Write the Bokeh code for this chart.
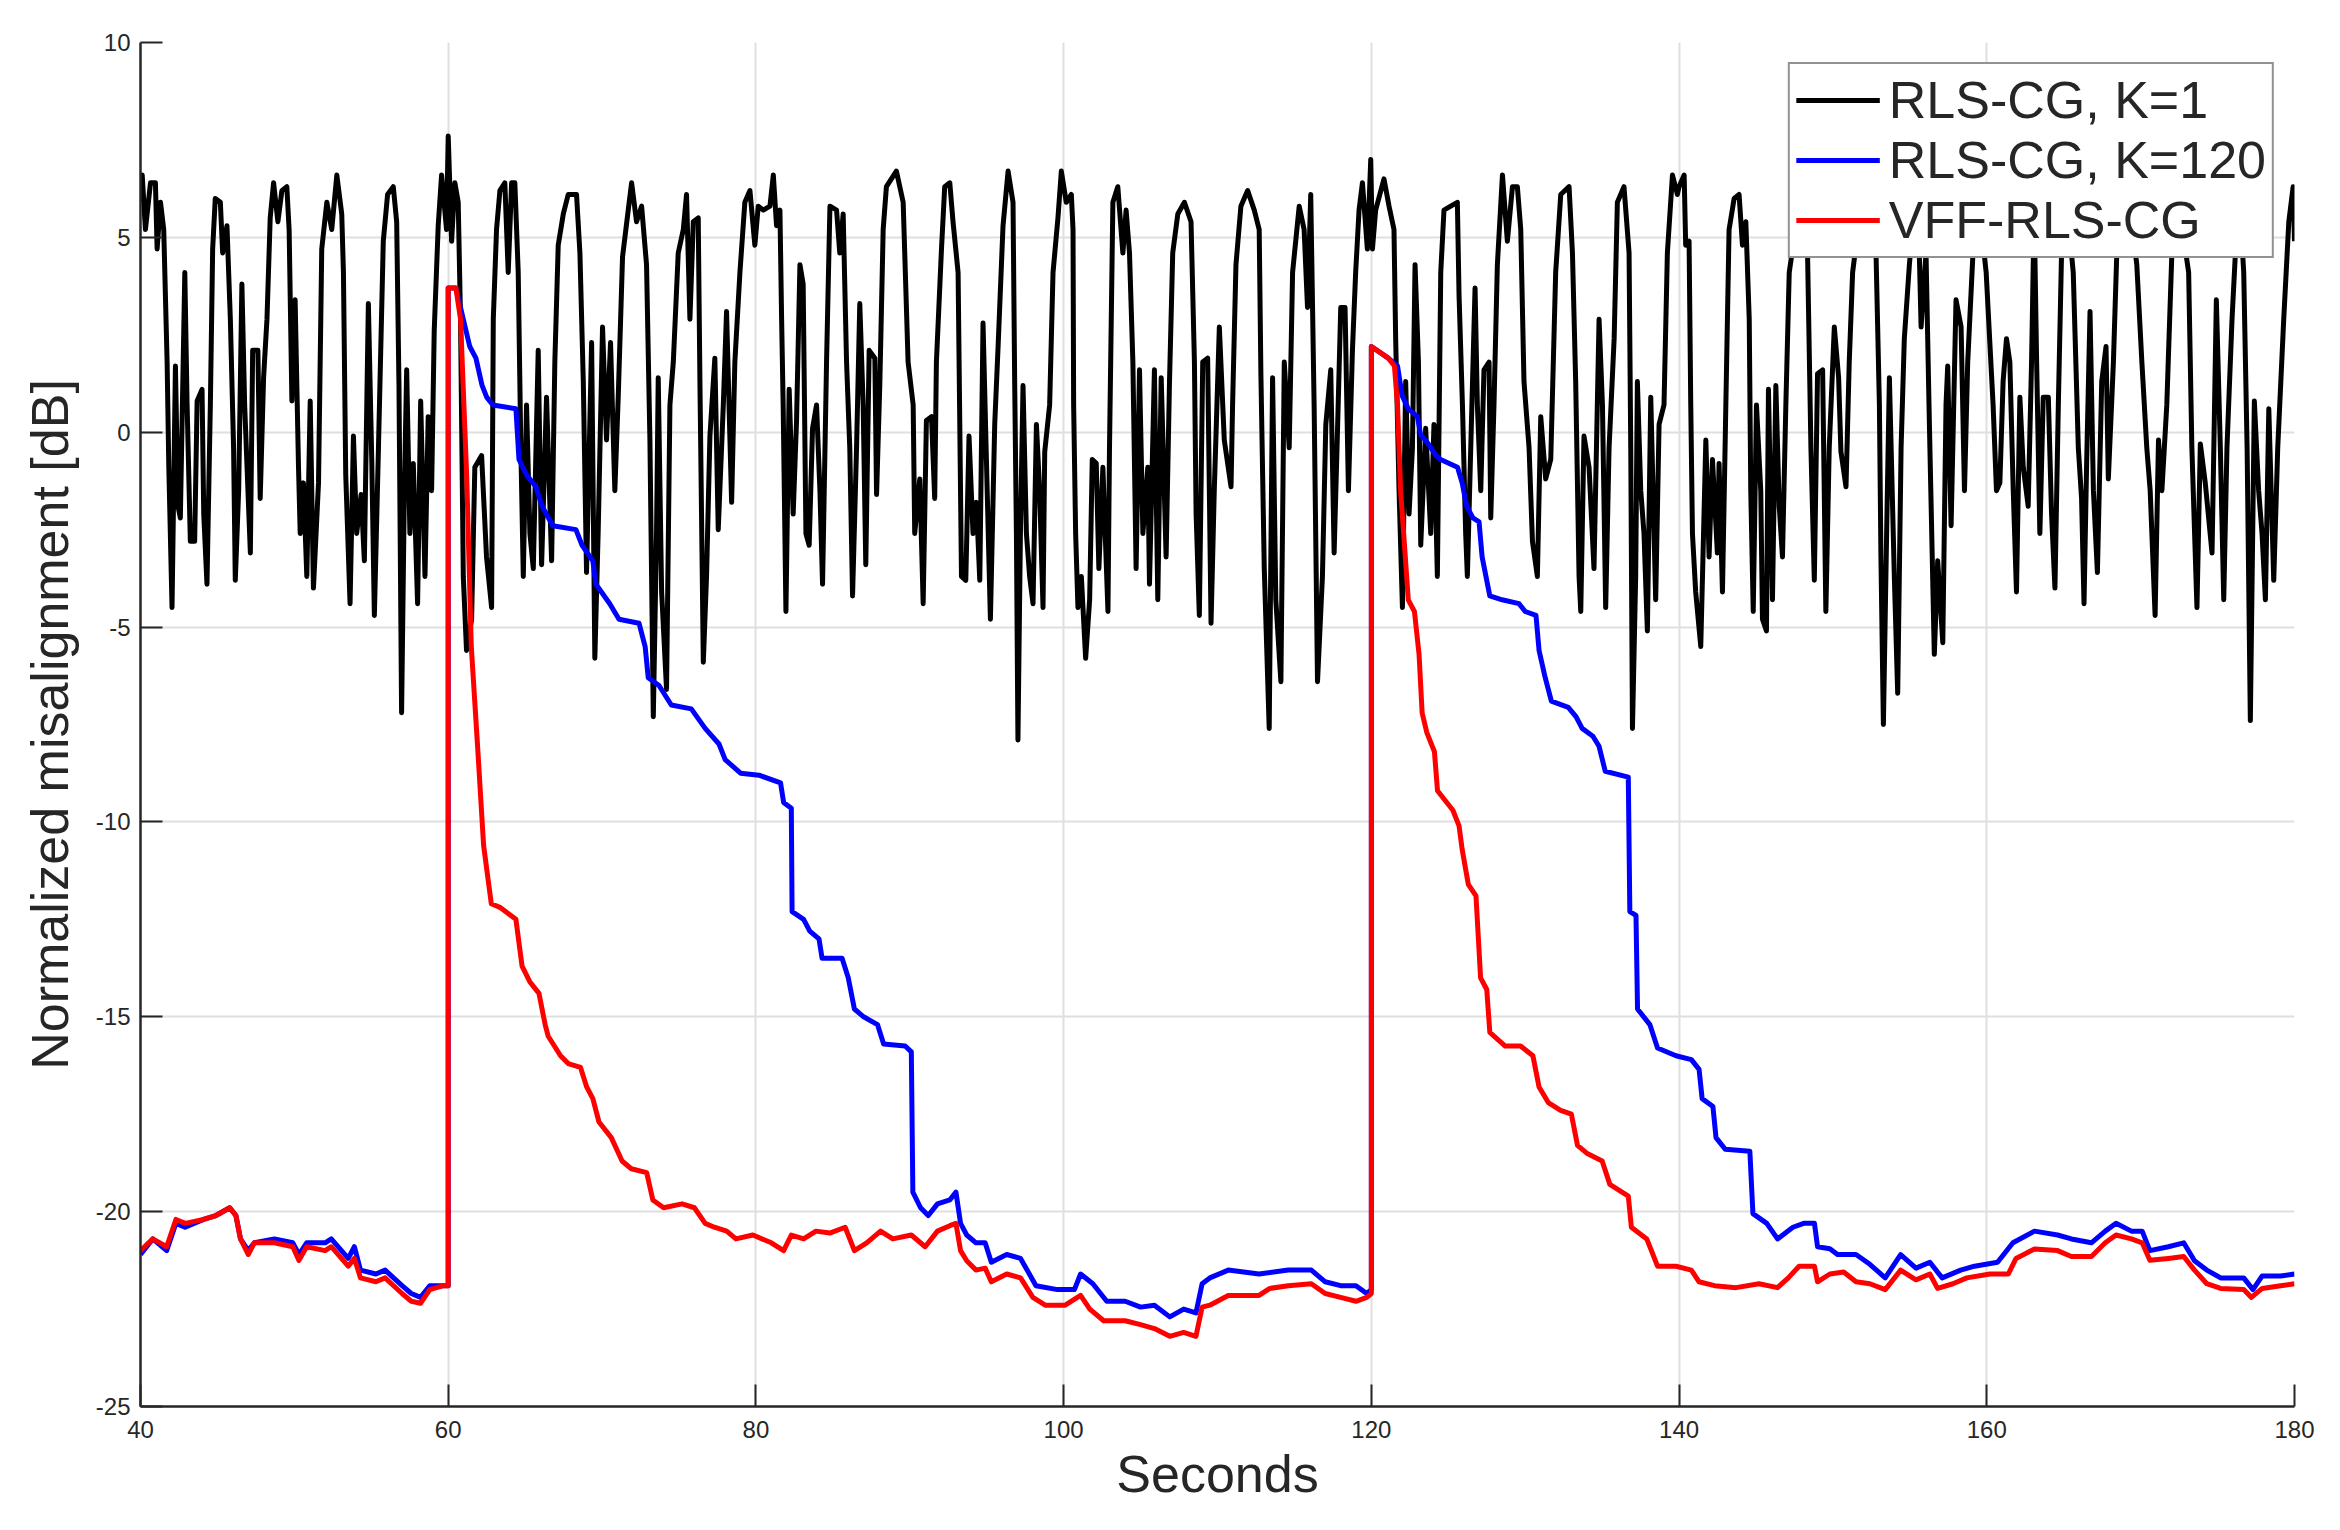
from bokeh.plotting import figure
from bokeh.models import Range1d, FixedTicker
from bokeh.embed import file_html
from bokeh.resources import INLINE

# ---- data ----
x_ticks = [40, 60, 80, 100, 120, 140, 160, 180]
y_ticks = [-25, -20, -15, -10, -5, 0, 5, 10]

k1_t = [40.00, 40.11, 40.32, 40.65, 40.97, 41.08, 41.30, 41.51, 41.62, 41.73, 41.84, 42.05, 42.27, 42.44, 42.59, 42.88,
        43.03, 43.24, 43.52, 43.68, 44.00, 44.11, 44.32, 44.54, 44.69, 44.86, 45.19, 45.34, 45.62, 45.84, 46.05, 46.16,
        46.38, 46.59, 46.77, 47.14, 47.29, 47.63, 47.78, 48.00, 48.22, 48.43, 48.65, 48.93, 49.19, 49.51, 49.66, 49.84,
        50.05, 50.27, 50.38, 50.59, 50.81, 51.03, 51.24, 51.57, 51.78, 52.11, 52.43, 52.76, 53.08, 53.19, 53.34, 53.62,
        53.84, 54.05, 54.34, 54.55, 54.81, 55.03, 55.20, 55.46, 55.78, 56.06, 56.43, 56.65, 56.80, 56.97, 57.15, 57.30,
        57.51, 57.73, 58.01, 58.21, 58.49, 58.70, 58.92, 59.09, 59.35, 59.57, 59.89, 60.00,
        60.22, 60.43, 60.65, 60.80, 60.98, 61.19, 61.52, 61.73, 62.17, 62.49, 62.82, 62.93, 63.14, 63.36, 63.68, 63.90,
        64.12, 64.33, 64.55, 64.72, 64.88, 65.09, 65.31, 65.53, 65.85, 66.07, 66.39, 66.72, 66.93, 67.15, 67.48, 67.80,
        68.34, 68.56, 68.78, 68.99, 69.32, 69.53, 69.75, 70.03, 70.29, 70.55, 70.83, 71.05, 71.33, 71.70, 71.92, 72.24,
        72.57, 72.89, 73.11, 73.33, 73.54, 73.65, 73.87, 74.19, 74.41, 74.63, 74.95, 75.28, 75.49, 75.71, 75.93, 76.25,
        76.36, 76.58, 76.79, 77.01, 77.33, 77.55, 77.88, 78.09, 78.42, 78.63, 78.96, 79.28, 79.61, 79.93,
        80.15, 80.48, 80.91, 81.13, 81.34, 81.56, 81.67, 81.77, 81.95, 82.16, 82.42, 82.64, 82.86, 83.07, 83.25, 83.46,
        83.68, 83.94, 84.16, 84.33, 84.59, 84.81, 85.24, 85.45, 85.67, 85.89, 86.10, 86.28, 86.54, 86.75, 86.97, 87.14,
        87.36, 87.73, 87.84, 88.05, 88.27, 88.48, 89.13, 89.57, 89.89, 90.22, 90.32, 90.65, 90.87, 91.08, 91.41, 91.62,
        91.73, 92.06, 92.27, 92.60, 92.81, 93.14, 93.36, 93.64, 93.85, 94.11, 94.33, 94.55, 94.76, 94.98, 95.24, 95.52,
        95.74, 96.06, 96.39, 96.71, 96.82, 96.93, 97.03, 97.19, 97.36, 97.58, 97.79, 98.01, 98.23, 98.44, 98.66, 98.77,
        99.09, 99.31, 99.63, 99.85,
        100.17, 100.50, 100.61, 100.65, 100.78, 100.93, 101.15, 101.43, 101.69, 101.86, 102.12, 102.29, 102.55, 102.88,
        102.98, 103.20, 103.52, 103.85, 104.06, 104.28, 104.50, 104.71, 104.93, 105.15, 105.47, 105.58, 105.90, 106.12,
        106.34, 106.66, 106.88, 107.09, 107.42, 107.85, 108.28, 108.50, 108.61, 108.82, 109.04, 109.36, 109.58, 109.79,
        110.12, 110.44, 110.88, 110.98, 111.20, 111.52, 111.96, 112.39, 112.71, 112.82, 113.04, 113.36, 113.58, 113.79,
        114.12, 114.34, 114.66, 114.88, 115.31, 115.63, 115.85, 116.06, 116.28, 116.50, 116.82, 117.04, 117.36, 117.58,
        117.79, 118.01, 118.29, 118.51, 118.77, 118.98, 119.20, 119.42, 119.74, 119.96,
        120.07, 120.28, 120.82, 121.15, 121.47, 121.58, 121.80, 122.02, 122.23, 122.45, 122.67, 122.84, 123.06, 123.21,
        123.53, 123.86, 124.07, 124.29, 124.51, 124.72, 125.16, 125.59, 125.70, 125.92, 126.13, 126.24, 126.46, 126.74,
        126.89, 127.11, 127.32, 127.65, 127.76, 127.97, 128.19, 128.52, 128.84, 129.17, 129.49, 129.71, 129.92, 130.25,
        130.47, 130.79, 131.01, 131.33, 131.66, 131.98, 132.31, 132.85, 133.07, 133.28, 133.50, 133.61, 133.82, 134.15,
        134.47, 134.80, 135.02, 135.23, 135.45, 135.78, 135.99, 136.42, 136.75, 136.86, 136.97, 137.18, 137.29, 137.51,
        137.72, 137.94, 138.16, 138.48, 138.70, 139.02, 139.24, 139.57, 139.89,
        140.00, 140.33, 140.43, 140.65, 140.76, 140.87, 141.08, 141.41, 141.74, 141.95, 142.17, 142.49, 142.60, 142.82,
        143.04, 143.25, 143.58, 143.90, 144.12, 144.34, 144.56, 144.66, 144.82, 145.03, 145.31, 145.42, 145.68, 145.81,
        146.07, 146.29, 146.51, 146.72, 146.94, 147.16, 147.38, 147.70, 148.03, 148.35, 148.57, 148.79, 149.00, 149.33,
        149.54, 149.76, 150.09, 150.37, 150.52, 150.85, 151.06, 151.28, 151.50, 151.93, 152.47, 152.80, 153.02, 153.12,
        153.28, 153.49, 153.67, 153.99, 154.21, 154.43, 154.64, 154.97, 155.29, 155.62, 155.73, 156.05, 156.27, 156.59,
        156.81, 157.14, 157.35, 157.46, 157.68, 158.00, 158.33, 158.55, 158.76, 159.09, 159.52, 159.96,
        160.41, 160.63, 160.85, 161.06, 161.28, 161.50, 161.72, 161.93, 162.15, 162.37, 162.69, 162.91, 163.08, 163.24,
        163.45, 163.67, 164.00, 164.21, 164.43, 164.65, 164.86, 165.19, 165.62, 165.95, 166.16, 166.32, 166.49, 166.71,
        166.93, 167.19, 167.47, 167.75, 167.90, 168.23, 168.45, 168.88, 169.32, 169.75, 170.08, 170.40, 170.62, 170.94,
        171.16, 171.38, 171.70, 172.03, 172.46, 173.12, 173.33, 173.66, 173.88, 174.20, 174.64, 174.92, 175.18, 175.40,
        175.61, 175.94, 176.16, 176.48, 176.70, 176.92, 177.13, 177.39, 177.67, 177.89, 178.11, 178.33, 178.65, 178.91,
        179.30, 179.63, 179.91, 180.00]

k1_db = [5.9, 6.6, 5.2, 6.4, 6.4, 4.7, 5.9, 5.2, 3.5, 1.8, -0.9, -4.5, 1.7, -1.9, -2.2, 4.1,
         0.7, -2.8, -2.8, 0.8, 1.1, -2.1, -3.9, 0.7, 4.7, 6.0, 5.9, 4.6, 5.3, 2.9, -0.4, -3.8,
         -1.5, 3.8, 0.7, -3.1, 2.1, 2.1, -1.7, 1.4, 2.9, 5.5, 6.4, 5.4, 6.2, 6.3, 5.2, 0.8,
         3.4, -0.9, -2.6, -1.3, -3.7, 0.8, -4.0, -1.3, 4.7, 5.9, 5.2, 6.6, 5.6, 4.1, -1.1, -4.4,
         -0.1, -2.6, -1.6, -3.3, 3.3, -0.7, -4.7, -0.5, 4.9, 6.1, 6.3, 5.4, 1.2, -7.2, -1.5, 1.6,
         -2.6, -0.8, -4.4, 0.8, -3.7, 0.4, -1.5, 2.6, 5.3, 6.6, 5.2, 7.6,
         4.9, 6.4, 5.9, 2.9, -3.7, -5.6, -4.8, -0.9, -0.6, -3.2, -4.5, 2.9, 5.2, 6.2, 6.4, 4.1,
         6.4, 6.4, 4.1, -0.4, -3.7, 0.7, -2.6, -3.5, 2.1, -3.4, 0.9, -3.3, 1.8, 4.8, 5.6, 6.1,
         6.1, 4.6, 1.3, -3.6, 2.3, -5.8, -2.5, 2.7, -0.2, 2.3, -1.5, 0.9, 4.5, 5.7, 6.4, 5.4,
         5.8, 4.3, -0.2, -7.3, -2.6, 1.4, -4.1, -6.6, 0.7, 1.8, 4.6, 5.2, 6.1, 2.9, 5.4, 5.5,
         1.3, -5.9, -3.7, -0.1, 1.9, -2.5, 0.7, 3.1, -1.8, 1.8, 4.1, 5.9, 6.2, 4.8,
         5.8, 5.7, 5.8, 6.6, 5.3, 5.7, 2.9, 0.7, -4.6, 1.1, -2.1, 0.3, 4.3, 3.8, -2.6, -2.9,
         0.1, 0.7, -1.5, -3.9, 1.8, 5.8, 5.7, 4.6, 5.6, 1.8, -0.4, -4.2, -0.4, 3.3, 0.7, -3.4,
         2.1, 1.9, -1.6, 1.2, 5.2, 6.3, 6.7, 5.9, 1.8, 0.7, -2.6, -1.2, -4.4, 0.3, 0.4, -1.7,
         1.8, 4.7, 6.3, 6.4, 5.4, 4.1, -3.7, -3.8, -0.1, -2.6, -1.8, -3.8, 2.8, -0.7, -4.8, 0.2,
         2.2, 5.3, 6.7, 5.9, 1.2, -2.6, -7.9, -2.6, 1.2, -2.6, -3.7, -4.4, 0.2, -1.5, -4.5, -0.5,
         0.7, 4.1, 5.5, 6.7,
         5.9, 6.1, 5.2, 0.7, -2.6, -4.5, -3.7, -5.8, -4.3, -0.7, -0.8, -3.5, -0.9, -4.6,
         -0.4, 5.9, 6.3, 4.6, 5.7, 4.6, 1.8, -3.5, 1.6, -2.6, -0.9, -3.9, 1.6, -4.3,
         1.4, -3.2, 1.3, 4.6, 5.6, 5.9, 5.4, 1.8, -2.1, -4.7, 1.8, 1.9, -4.9, -1.5,
         2.7, -0.2, -1.4, 0.7, 4.3, 5.8, 6.2, 5.7, 5.2, 1.5, -3.5, -7.6, 1.4, -4.3,
         -6.4, 1.8, -0.4, 4.1, 5.8, 5.2, 3.2, 6.1, 0.7, -6.4, -3.7, 0.2, 1.6, -3.1,
         -0.1, 3.2, 3.2, -1.5, 2.1, 4.1, 5.7, 6.4, 4.7, 7.0,
         4.7, 5.7, 6.5, 5.8, 5.2, 2.4, -1.5, -4.5, 1.3, -2.1, -0.4, 4.3, 1.8, -2.9,
         0.1, -2.6, 0.2, -3.7, 4.1, 5.7, 5.8, 5.9, 3.5, 0.7, -2.6, -3.7, -0.4, 3.7,
         0.7, -1.5, 1.6, 1.8, -2.2, 0.7, 4.3, 6.6, 4.9, 6.3, 6.3, 5.2, 1.3, -0.4,
         -2.8, -3.7, 0.4, -1.2, -0.7, 4.1, 6.1, 6.3, 4.6, 1.3, -3.7, -4.6, -0.1, -0.9,
         -3.5, 2.9, 0.7, -4.5, -0.4, 2.4, 5.9, 6.3, 4.6, -0.4, -7.6, -3.7, 1.3, -1.5,
         -2.6, -5.1, 0.9, -4.3, 0.2, 0.7, 4.6, 6.6, 6.1,
         6.3, 6.6, 4.8, 4.9, 0.7, -2.6, -4.1, -5.5, -0.2, -3.2, -0.7, -3.1, -0.8, -4.1,
         0.7, 5.2, 6.0, 6.1, 4.8, 5.4, 2.9, -1.5, -4.6, 0.7, -1.5, -4.8, -5.1, 1.1,
         -4.3, 1.2, -1.9, -3.2, 0.7, 4.1, 4.7, 5.7, 5.7, 4.6, -0.4, -3.8, 1.5, 1.6,
         -4.6, -0.4, 2.7, 1.4, -0.5, -1.4, 1.8, 4.1, 4.8, 5.9, 5.7, 4.6, 0.7, -3.2,
         -7.5, -2.6, 1.4, -3.7, -6.7, -0.4, 2.4, 4.3, 5.8, 4.5, 2.7, 4.6, 0.2, -5.7,
         -3.3, -5.4, 0.7, 1.7, -2.4, 3.4, 2.7, -1.5, 1.8, 4.5, 5.7, 4.1,
         0.7, -1.5, -1.3, 1.3, 2.4, 1.8, -1.5, -4.1, 0.9, -0.9, -1.9, 1.8, 5.7, 1.8,
         -2.6, 0.9, 0.9, -2.1, -4.0, 0.7, 4.6, 5.9, 4.1, -0.4, -1.7, -4.4, -0.8, 3.1,
         -1.5, -3.6, 1.3, 2.2, -1.2, 1.8, 4.6, 5.8, 5.7, 4.3, 1.8, -0.4, -1.5, -4.7,
         -0.2, -1.5, 0.7, 4.6, 5.9, 4.1, -0.4, -4.5, -0.3, -1.3, -3.1, 3.4, -0.4, -4.3,
         -0.4, 2.9, 4.6, 5.6, 4.1, -0.4, -7.4, 0.8, -1.5, -2.6, -4.3, 0.6, -3.8, -0.4,
         2.9, 5.4, 6.3, 4.9]

k120_t = [40.0, 40.8, 41.7, 42.3, 42.9, 44.1, 44.9, 45.8, 46.2, 46.5, 47.0, 47.4, 48.7, 49.9, 50.3, 50.8,
          52.0, 52.4, 53.5, 53.9, 54.3, 55.3, 55.9, 57.0, 57.6, 58.2, 58.8, 59.7, 60.0, 60.0, 60.5, 60.8,
          61.1, 61.4, 61.8, 62.2, 62.5, 62.9, 64.4, 64.6, 65.1, 65.7, 66.1, 66.8, 68.3, 68.7, 69.4, 69.6,
          70.5, 71.1, 72.4, 72.8, 73.0, 73.7, 74.5, 75.8, 76.7, 77.6, 78.0, 79.0, 80.2, 81.6, 81.8, 82.3,
          82.35, 83.1, 83.5, 84.1, 84.3, 85.6, 86.0, 86.4, 87.0, 87.9, 88.3, 89.7, 90.1, 90.2, 90.7, 91.2,
          91.8, 92.6, 93.0, 93.3, 93.7, 94.3, 94.9, 95.3, 96.3, 97.2, 98.2, 99.6, 100.7, 101.1, 101.9, 102.8,
          104.0, 105.0, 105.9, 106.9, 107.8, 108.6, 109.0, 109.5, 110.7, 112.7, 114.6, 116.1, 117.0, 118.0,
          119.0, 119.7, 120.0, 120.0, 121.1, 121.7, 122.0, 122.4, 123.0, 123.2, 123.7, 124.2, 124.5, 125.6,
          125.9, 126.2, 126.6, 127.0, 127.2, 127.7, 128.5, 129.6, 130.0, 130.7, 130.9, 131.3, 131.7, 132.8,
          133.3, 133.7, 134.4, 134.8, 135.2, 136.7, 136.8, 137.2, 137.3, 138.1, 138.6, 139.8, 140.8, 141.3,
          141.5, 142.2, 142.4, 143.0, 144.6, 144.8, 145.7, 146.4, 147.4, 148.1, 148.8, 149.0, 149.8, 150.3,
          151.5, 152.4, 153.4, 154.4, 155.4, 156.3, 157.1, 158.3, 159.2, 160.7, 161.7, 163.1, 164.6, 165.5,
          166.8, 167.7, 168.4, 169.4, 170.1, 170.6, 171.8, 172.8, 173.5, 174.3, 175.2, 176.7, 177.3, 177.9,
          179.1, 180.0]
k120_db = [-21.1, -20.7, -21.0, -20.3, -20.4, -20.2, -20.1, -19.9, -20.1, -20.7, -21.0, -20.8, -20.7, -20.8, -21.1, -20.8,
           -20.8, -20.7, -21.2, -20.9, -21.5, -21.6, -21.5, -21.9, -22.1, -22.2, -21.9, -21.9, -21.9, 3.7, 3.7, 3.2,
           2.7, 2.2, 1.9, 1.2, 0.9, 0.7, 0.6, -0.7, -1.1, -1.4, -1.9, -2.4, -2.5, -2.9, -3.3, -3.9,
           -4.4, -4.8, -4.9, -5.5, -6.3, -6.5, -7.0, -7.1, -7.6, -8.0, -8.4, -8.75, -8.8, -9.0, -9.5, -9.65,
           -12.3, -12.5, -12.8, -13.0, -13.5, -13.5, -14.0, -14.8, -15.0, -15.2, -15.7, -15.75, -15.9, -19.5, -19.9, -20.1,
           -19.8, -19.7, -19.5, -20.3, -20.6, -20.8, -20.8, -21.3, -21.1, -21.2, -21.9, -22.0, -22.0, -21.6, -21.85, -22.3,
           -22.3, -22.45, -22.4, -22.7, -22.5, -22.6, -21.85, -21.7, -21.5, -21.6, -21.5, -21.5, -21.8, -21.9,
           -21.9, -22.1, -22.0, 2.2, 1.9, 1.7, 0.94, 0.6, 0.4, -0.06, -0.3, -0.6, -0.7, -0.9,
           -1.3, -1.9, -2.2, -2.3, -3.2, -4.2, -4.3, -4.4, -4.6, -4.7, -5.6, -6.3, -6.9, -7.06,
           -7.3, -7.6, -7.8, -8.06, -8.7, -8.85, -12.3, -12.4, -14.8, -15.2, -15.8, -16.0, -16.1, -16.35,
           -17.1, -17.3, -18.1, -18.4, -18.45, -20.05, -20.3, -20.7, -20.4, -20.3, -20.3, -20.9, -20.95, -21.1,
           -21.1, -21.35, -21.7, -21.1, -21.45, -21.3, -21.7, -21.5, -21.4, -21.3, -20.8, -20.5, -20.6, -20.7,
           -20.8, -20.5, -20.3, -20.5, -20.5, -21.0, -20.9, -20.8, -21.26, -21.5, -21.7, -21.7, -22.0, -21.65,
           -21.65, -21.6]

vff_t = [40.0, 40.8, 41.7, 42.3, 42.9, 44.1, 44.9, 45.8, 46.2, 46.5, 47.0, 47.4, 48.7, 49.9, 50.3, 50.8,
         52.0, 52.4, 53.5, 53.9, 54.3, 55.3, 55.9, 57.0, 57.6, 58.2, 58.8, 59.7, 60.0, 60.0, 60.5, 60.8,
         61.2, 61.5, 61.9, 62.3, 62.8, 63.4, 64.4, 64.8, 65.3, 65.9, 66.3, 66.5, 67.3, 67.8, 68.6, 69.0,
         69.4, 69.8, 70.6, 71.3, 71.9, 72.9, 73.3, 74.0, 75.2, 76.0, 76.7, 77.3, 78.1, 78.7, 79.8, 81.0,
         81.8, 82.3, 83.1, 83.9, 84.8, 85.8, 86.4, 87.2, 88.1, 88.9, 90.1, 91.0, 91.8, 92.6, 93.0, 93.3,
         93.7, 94.3, 94.9, 95.3, 96.3, 97.2, 98.0, 98.8, 100.1, 101.1, 101.7, 102.6, 104.0, 105.0, 105.9, 106.9,
         107.8, 108.6, 109.0, 109.5, 110.7, 112.7, 113.4, 114.6, 116.1, 117.0, 118.0, 119.0, 119.7, 120.0,
         120.0, 121.1, 121.5, 121.7, 121.9, 122.1, 122.4, 122.8, 123.1, 123.3, 123.6, 124.1, 124.3, 125.3,
         125.7, 125.9, 126.3, 126.8, 127.1, 127.5, 127.7, 128.7, 129.7, 130.5, 130.9, 131.5, 132.3, 133.0,
         133.4, 134.0, 135.0, 135.5, 136.7, 136.9, 137.9, 138.6, 139.8, 140.8, 141.3, 142.3, 143.7, 145.2,
         146.4, 147.1, 147.8, 148.8, 149.0, 149.8, 150.7, 151.5, 152.4, 153.4, 154.4, 155.4, 156.3, 156.8,
         157.8, 158.7, 160.2, 161.4, 161.9, 163.1, 164.6, 165.5, 166.8, 167.7, 168.4, 169.4, 170.1, 170.6,
         171.8, 172.8, 173.5, 174.3, 175.2, 176.7, 177.2, 177.9, 179.1, 180.0]
vff_db = [-21.0, -20.7, -20.9, -20.2, -20.3, -20.2, -20.1, -19.9, -20.1, -20.7, -21.1, -20.8, -20.8, -20.9, -21.25, -20.9,
          -21.0, -20.9, -21.4, -21.2, -21.7, -21.8, -21.7, -22.1, -22.3, -22.35, -22.0, -21.9, -21.9, 3.7, 3.7, 2.9,
          -1.1, -5.5, -8.0, -10.6, -12.1, -12.2, -12.5, -13.7, -14.1, -14.4, -15.2, -15.5, -16.0, -16.2, -16.3, -16.8,
          -17.1, -17.7, -18.1, -18.7, -18.9, -19.0, -19.7, -19.9, -19.8, -19.9, -20.3, -20.4, -20.5, -20.7, -20.6, -20.8,
          -21.0, -20.6, -20.7, -20.5, -20.55, -20.4, -21.0, -20.8, -20.5, -20.7, -20.6, -20.9, -20.5, -20.36, -20.3, -21.0,
          -21.26, -21.5, -21.45, -21.8, -21.6, -21.7, -22.2, -22.4, -22.4, -22.15, -22.5, -22.8, -22.8, -22.9, -23.0, -23.2,
          -23.1, -23.2, -22.45, -22.4, -22.15, -22.15, -21.97, -21.9, -21.85, -22.1, -22.2, -22.3, -22.2, -22.1,
          2.2, 1.9, 1.7, 0.7, -1.5, -2.6, -4.3, -4.6, -5.7, -7.2, -7.7, -8.2, -9.2, -9.7,
          -10.1, -10.7, -11.6, -11.9, -14.0, -14.3, -15.4, -15.75, -15.75, -16.0, -16.8, -17.2, -17.4, -17.5,
          -18.3, -18.5, -18.7, -19.3, -19.6, -20.4, -20.7, -21.4, -21.4, -21.5, -21.8, -21.9, -21.95, -21.85,
          -21.95, -21.7, -21.4, -21.4, -21.8, -21.6, -21.55, -21.8, -21.85, -22.0, -21.5, -21.75, -21.6, -21.97,
          -21.85, -21.7, -21.6, -21.6, -21.2, -20.96, -21.0, -21.15, -21.15, -20.8, -20.6, -20.7, -20.8, -21.25,
          -21.2, -21.15, -21.5, -21.85, -21.97, -22.0, -22.2, -21.97, -21.9, -21.85]

series_labels = ["RLS-CG, K=1", "RLS-CG, K=120", "VFF-RLS-CG"]
series_colors = ["#000000", "#0000ff", "#ff0000"]

FONT = "Liberation Sans"
TXT = "#262626"

p = figure(width=2324, height=1514,
           x_range=Range1d(40, 180), y_range=Range1d(-25, 10),
           output_backend="svg", toolbar_location=None,
           min_border_left=140, min_border_right=30,
           min_border_top=42, min_border_bottom=108)

p.background_fill_color = "white"
p.border_fill_color = "white"
p.outline_line_color = None

for t, v, lab, col in zip([k1_t, k120_t, vff_t], [k1_db, k120_db, vff_db], series_labels, series_colors):
    p.line(t, v, line_color=col, line_width=5, line_join="round", legend_label=lab)

p.xaxis.ticker = FixedTicker(ticks=x_ticks)
p.yaxis.ticker = FixedTicker(ticks=y_ticks)
p.yaxis.major_label_overrides = {v: str(v) for v in y_ticks}
p.xaxis.major_label_overrides = {v: str(v) for v in x_ticks}

for ax in (p.xaxis, p.yaxis):
    ax.axis_line_color = TXT
    ax.axis_line_width = 2.5
    ax.major_tick_line_color = TXT
    ax.major_tick_line_width = 2
    ax.major_tick_in = 22
    ax.major_tick_out = 0
    ax.minor_tick_line_color = None
    ax.major_label_text_font = FONT
    ax.major_label_text_font_size = "24px"
    ax.major_label_text_color = TXT
    ax.axis_label_text_font = FONT
    ax.axis_label_text_font_size = "52px"
    ax.axis_label_text_font_style = "normal"
    ax.axis_label_text_color = TXT

p.xaxis.axis_label = "Seconds"
p.yaxis.axis_label = "Normalized misalignment [dB]"
p.xaxis.major_label_standoff = 14
p.yaxis.major_label_standoff = 10
p.xaxis.axis_label_standoff = 4
p.yaxis.axis_label_standoff = 14

p.grid.grid_line_color = "#dfdfdf"
p.grid.grid_line_width = 2

lg = p.legend[0]
lg.location = "top_right"
lg.margin = 20
lg.padding = 6
lg.spacing = 0
lg.glyph_width = 84
lg.glyph_height = 60
lg.label_height = 60
lg.label_standoff = 9
lg.label_text_font = FONT
lg.label_text_font_size = "52px"
lg.label_text_color = TXT
lg.border_line_color = TXT
lg.border_line_width = 2.5
lg.background_fill_color = "white"
lg.background_fill_alpha = 1.0

open("out.html", "w").write(file_html(p, INLINE))
